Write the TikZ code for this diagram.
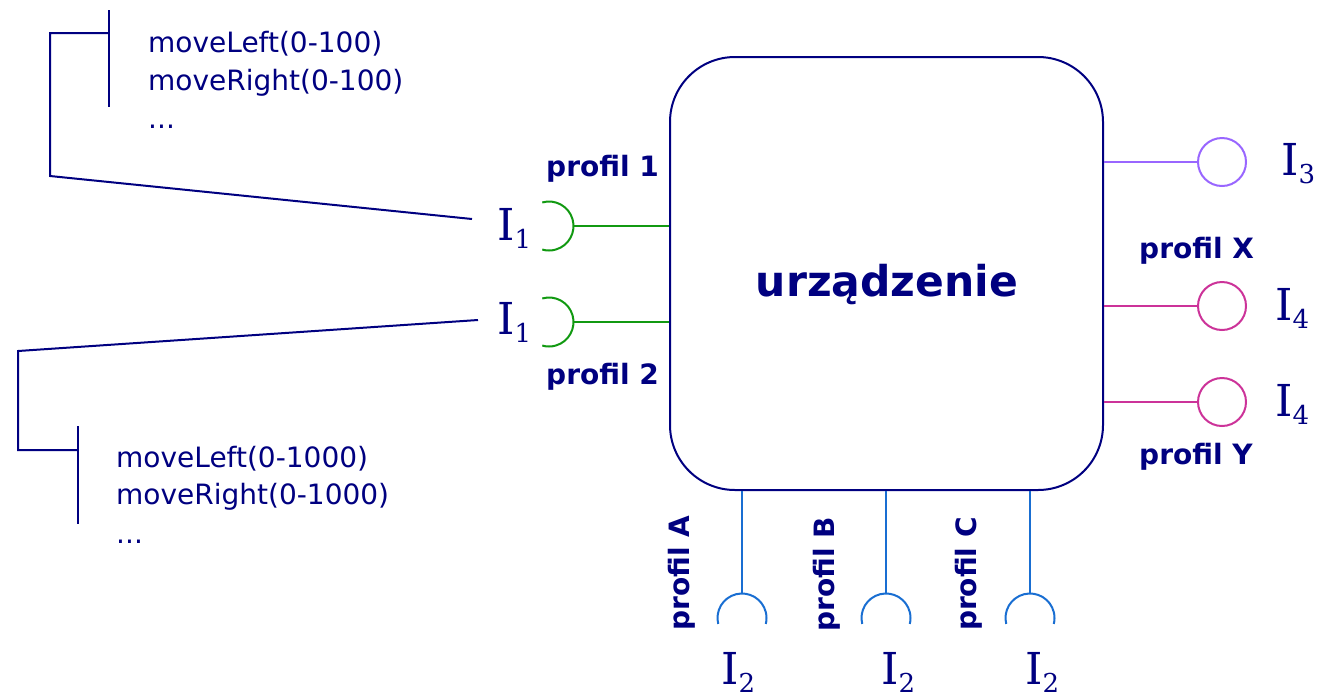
\documentclass[tikz,border=0pt]{standalone}
\usepackage{fontspec}
\setmainfont{DejaVu Sans}
\newfontfamily\serifI{DejaVu Serif}
\definecolor{navyc}{RGB}{0,0,128}
\definecolor{greenc}{RGB}{17,153,17}
\definecolor{purplec}{RGB}{153,102,255}
\definecolor{magentac}{RGB}{204,51,153}
\definecolor{bluec}{RGB}{25,110,210}
\newcommand{\Iface}[1]{{\serifI\fontsize{44}{44}\selectfont I\raisebox{-8pt}{\fontsize{26}{26}\selectfont #1}}}
\tikzset{
  navyline/.style={draw=navyc, line width=2pt},
  conn/.style={line width=2pt},
  lbl/.style={text=navyc, inner sep=0pt, font=\fontsize{28}{28}\selectfont\bfseries},
  txt/.style={text=navyc, inner sep=0pt, anchor=base west, font=\fontsize{28}{28}\selectfont},
  ilbl/.style={text=navyc, inner sep=0pt, anchor=base west},
  ring/.style={circle, draw, line width=2pt, minimum size=48pt, inner sep=0pt},
}
\begin{document}
\begin{tikzpicture}[x=1pt,y=-1pt]
\useasboundingbox (0,0) rectangle (1317,697);

% main box
\node[navyline, rounded corners=65pt, minimum width=433pt, minimum height=433pt, inner sep=0pt] (box) at (886.5,273.5) {};
\node[text=navyc, inner sep=0pt, anchor=base, font=\fontsize{42.5}{42.5}\selectfont\bfseries] (dev) at (887,296) {urządzenie};

% left sockets (I1)
\coordinate (c1) at (549,226);
\coordinate (t1) at (573.5,226);
\coordinate (c2) at (549,322);
\coordinate (t2) at (573.5,322);
\draw[greenc, conn] ([shift={(-106:24.5)}]c1) arc[start angle=-106, end angle=106, radius=24.5];
\draw[greenc, conn] ([shift={(-106:24.5)}]c2) arc[start angle=-106, end angle=106, radius=24.5];
\draw[greenc, conn] (t1) -- (box.west |- t1);
\draw[greenc, conn] (t2) -- (box.west |- t2);
\node[ilbl] (i1a) at (497,240) {\Iface{1}};
\node[ilbl] (i1b) at (497,334) {\Iface{1}};
\node[lbl, anchor=base west] (p1) at (546,176) {profil 1};
\node[lbl, anchor=base west] (p2) at (546,384) {profil 2};

% right rings
\node[ring, draw=purplec] (r3) at (1222,162) {};
\node[ring, draw=magentac] (r4a) at (1222,306) {};
\node[ring, draw=magentac] (r4b) at (1222,402) {};
\draw[purplec, conn] (box.east |- r3) -- (r3.west);
\draw[magentac, conn] (box.east |- r4a) -- (r4a.west);
\draw[magentac, conn] (box.east |- r4b) -- (r4b.west);
\node[ilbl] (i3) at (1281,175) {\Iface{3}};
\node[ilbl] (i4a) at (1275,320) {\Iface{4}};
\node[ilbl] (i4b) at (1275,416) {\Iface{4}};
\node[lbl, anchor=base west] (px) at (1139,258) {profil X};
\node[lbl, anchor=base west] (py) at (1139,464) {profil Y};

% bottom sockets
\foreach \n/\x in {a/742,b/886,c/1030}{
  \coordinate (cb\n) at (\x,618);
  \coordinate (tb\n) at (\x,593.5);
  \draw[bluec, conn] ([shift={(166:24.5)}]cb\n) arc[start angle=166, end angle=374, radius=24.5];
  \draw[bluec, conn] (box.south -| tb\n) -- (tb\n);
}
\node[ilbl] (i2a) at (721,684) {\Iface{2}};
\node[ilbl] (i2b) at (881,684) {\Iface{2}};
\node[ilbl] (i2c) at (1025,684) {\Iface{2}};
\node[lbl, rotate=90] (pa) at (682,573) {profil A};
\node[lbl, rotate=90] (pb) at (827,574) {profil B};
\node[lbl, rotate=90] (pc) at (969,574) {profil C};

% top-left annotation
\node[txt] (m1) at (148,52) {moveLeft(0-100)};
\node[txt] (m2) at (148,90) {moveRight(0-100)};
\node[txt] (m3) at (148,128) {...};
\coordinate (ba1) at (109,10);
\coordinate (ba2) at (109,107);
\coordinate (ja) at (109,33);
\coordinate (ka) at (50,33);
\coordinate (la) at (50,176);
\coordinate (ea) at (472,219);
\draw[navyline] (ba1) -- (ba2);
\draw[navyline] (ja) -- (ka) -- (la) -- (ea);

% bottom-left annotation
\node[txt] (n1) at (116,467) {moveLeft(0-1000)};
\node[txt] (n2) at (116,504) {moveRight(0-1000)};
\node[txt] (n3) at (116,543) {...};
\coordinate (bb1) at (78,426);
\coordinate (bb2) at (78,524);
\coordinate (jb) at (78,450);
\coordinate (kb) at (18,450);
\coordinate (lb) at (18,351);
\coordinate (eb) at (478,320);
\draw[navyline] (bb1) -- (bb2);
\draw[navyline] (jb) -- (kb) -- (lb) -- (eb);
\end{tikzpicture}
\end{document}
